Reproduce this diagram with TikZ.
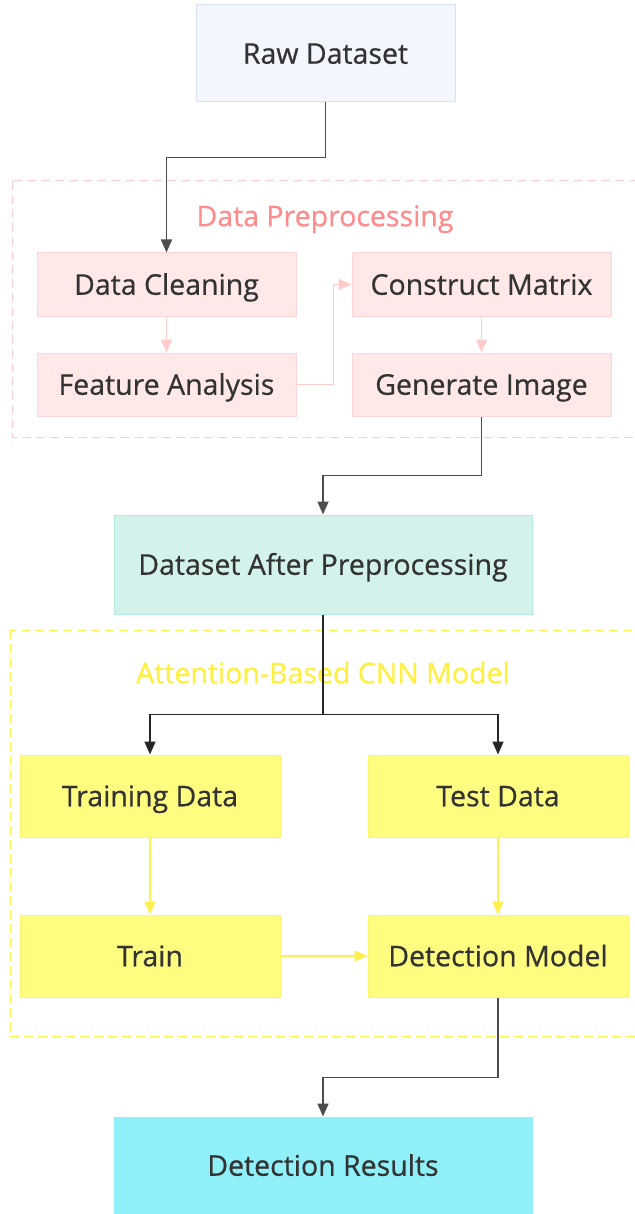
\documentclass[tikz,border=0pt]{standalone}
\usepackage{fontspec}
\setmainfont{Open Sans}[FakeBold=0.6]
\usetikzlibrary{positioning, arrows.meta}

\definecolor{textdark}{HTML}{333333}
\definecolor{arrowdark}{HTML}{4D4D4D}
\definecolor{rawfill}{HTML}{F4F6FE}
\definecolor{rawline}{HTML}{D9E0FB}
\definecolor{pinkfill}{HTML}{FFE8E8}
\definecolor{pinkline}{HTML}{FFD6D6}
\definecolor{pinkarrow}{HTML}{FFCCCC}
\definecolor{pinklabel}{HTML}{FF8C8C}
\definecolor{tealfill}{HTML}{D3F2EC}
\definecolor{tealline}{HTML}{B3EBE1}
\definecolor{yellowfill}{HTML}{FFFD80}
\definecolor{yellowline}{HTML}{FFF46B}
\definecolor{yellowarrow}{HTML}{FFF04D}
\definecolor{yellowlabel}{HTML}{FFF040}
\definecolor{cyanfill}{HTML}{8FF0FA}

\begin{document}
\begin{tikzpicture}[
    x=1pt, y=1pt,
    every node/.style={font=\fontsize{28.5}{33}\selectfont, text=textdark},
    block/.style={
        rectangle, draw, line width=1pt,
        inner sep=0pt,
        text height=20.5pt, text depth=0pt
    },
    rawblock/.style={block, fill=rawfill, draw=rawline,
        minimum width=259pt, minimum height=97pt},
    pinkblock/.style={block, fill=pinkfill, draw=pinkline,
        minimum width=259pt, minimum height=63pt},
    tealblock/.style={block, fill=tealfill, draw=tealline,
        minimum width=418pt, minimum height=99pt},
    yellowblock/.style={block, fill=yellowfill, draw=yellowline,
        minimum width=260pt, minimum height=82pt},
    cyanblock/.style={block, fill=cyanfill, draw=cyanfill,
        minimum width=418pt, minimum height=97pt},
    grouplabel/.style={inner sep=0pt, text height=20.5pt, text depth=0pt},
    groupbox/.style={dashed, dash pattern=on 9pt off 5pt, line width=1pt},
    arrow/.style={-{Triangle[length=13pt,width=11pt]}, line width=1.6pt, draw=arrowdark},
    pinkarr/.style={arrow, draw=pinkarrow},
    yellowarr/.style={arrow, draw=yellowarrow}
]
\useasboundingbox (0,0) rectangle (634,-1214);

% --- Input ---
\node[rawblock] (raw) at (325.5,-53.5) {Raw Dataset};

% --- Data Preprocessing ---
\draw[groupbox, draw=pinkarrow] (12,-181) rectangle (650,-437);
\node[grouplabel, text=pinklabel] (prelabel) at (325,-216) {Data Preprocessing};
\node[pinkblock] (clean) at (166.5,-284.5) {Data Cleaning};
\node[pinkblock, below=36pt of clean] (feat) {Feature Analysis};
\node[pinkblock, right=55pt of clean] (cmatrix) {Construct Matrix};
\node[pinkblock, below=36pt of cmatrix] (genimg) {Generate Image};

% --- Preprocessed data ---
\node[tealblock] (prep) at (323,-564.5) {Dataset After Preprocessing};

% --- Attention-Based CNN Model ---
\draw[groupbox, draw=yellowarrow] (10,-630) rectangle (650,-1036);
\node[grouplabel, text=yellowlabel] (cnnlabel) at (323,-673) {Attention-Based CNN Model};
\node[yellowblock] (trainset) at (150,-796) {Training Data};
\node[yellowblock, right=87pt of trainset] (testset) {Test Data};
\node[yellowblock, below=77pt of trainset] (train) {Train};
\node[yellowblock, below=77pt of testset] (model) {Detection Model};

% --- Output ---
\node[cyanblock] (results) at (323,-1165.5) {Detection Results};

% --- Arrows ---
\draw[arrow] (raw.south) -- ++(0,-55) -| (clean.north);
\draw[pinkarr] (clean) -- (feat);
\draw[pinkarr] (feat.east) -- ++(37,0) |- (cmatrix.west);
\draw[pinkarr] (cmatrix) -- (genimg);
\draw[arrow] (genimg.south) -- ++(0,-59) -| (prep.north);
\draw[line width=1.6pt, draw=black!85] (prep.south) -- ++(0,-100) coordinate (split);
\draw[arrow, draw=black!85] (split) -| (trainset.north);
\draw[arrow, draw=black!85] (split) -| (testset.north);
\draw[yellowarr] (trainset) -- (train);
\draw[yellowarr] (testset) -- (model);
\draw[yellowarr] (train) -- (model);
\draw[arrow] (model.south) -- ++(0,-80) -| (results.north);

\end{tikzpicture}
\end{document}
